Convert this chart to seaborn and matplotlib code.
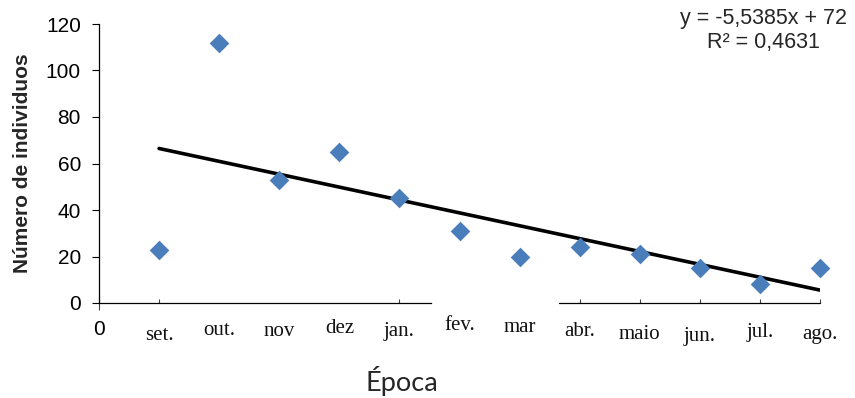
import matplotlib
matplotlib.use("Agg")
import matplotlib.pyplot as plt
import matplotlib.transforms as mtransforms
import seaborn as sns
import pandas as pd

# ---- data ----
months = ['set.', 'out.', 'nov', 'dez', 'jan.', 'fev.', 'mar', 'abr.', 'maio', 'jun.', 'jul.', 'ago.']
month_index = [1, 2, 3, 4, 5, 6, 7, 8, 9, 10, 11, 12]
individuos = [23, 112, 53, 65, 45, 31, 20, 24, 21, 15, 8, 15]
y_ticks = [0, 20, 40, 60, 80, 100, 120]
equation_text = "y = -5,5385x + 72\nR² = 0,4631"
x_label = "Época"
y_label = "Número de individuos"

df = pd.DataFrame({"mes": month_index, "n": individuos})

sns.set_style("ticks")
plt.rcParams['font.family'] = ['Liberation Sans', 'DejaVu Sans']

fig = plt.figure(figsize=(8.55, 3.98), dpi=100)
ax = fig.add_axes([99 / 855, 1 - 303 / 398, (820 - 99) / 855, (303 - 24) / 398])

sns.scatterplot(data=df, x="mes", y="n", marker="D", s=100, color="#4a7ebb",
                edgecolor="#4a7ebb", linewidth=0, ax=ax, zorder=3, clip_on=False)
sns.regplot(data=df, x="mes", y="n", scatter=False, ci=None, truncate=True,
            line_kws=dict(color="black", lw=2.6), ax=ax)

ax.set_xlim(0, 12)
ax.set_ylim(0, 120)
ax.set_yticks(y_ticks)
ax.tick_params(axis='y', direction='out', length=5, width=0.8, colors='black',
               labelsize=15, pad=8)
ax.set_xticks([0] + month_index)
ax.set_xticklabels(['0'] + months)
ax.tick_params(axis='x', direction='in', length=3, width=0.8, colors='#444444',
               labelcolor='black', pad=14)

for sp in ['top', 'right']:
    ax.spines[sp].set_visible(False)
for sp in ['left', 'bottom']:
    ax.spines[sp].set_color('black')
    ax.spines[sp].set_linewidth(0.9)
ax.spines['bottom'].set_bounds(0, 5.52)
ax.axhline(0, xmin=7.65 / 12, xmax=1, color='black', lw=0.9, clip_on=False)

xt = ax.xaxis.get_major_ticks()
labels = ax.get_xticklabels()
labels[0].set_fontsize(15)
labels[0].set_family(['Liberation Sans'])
offsets = [2, -4, 1, 0, 3, 0, 6, 4, 0, -3, -5, -1, -3]
for i, lab in enumerate(labels):
    if i > 0:
        lab.set_family(['Liberation Serif'])
        lab.set_fontsize(15)
        lab.set_color('#111111')
    lab.set_transform(lab.get_transform() +
                      mtransforms.ScaledTranslation(0, offsets[i] / 100, fig.dpi_scale_trans))
for i in [2, 3, 4, 6, 7]:
    xt[i].tick1line.set_visible(False)
xt[0].tick1line.set_marker('|')
xt[0].tick1line.set_markersize(10)

ax.set_xlabel(x_label, fontsize=19.5, family=['Lato', 'DejaVu Sans'], va='center')
ax.xaxis.set_label_coords(303 / 721, -(381 - 303) / 279)
ax.set_ylabel(y_label, fontsize=15, fontweight='bold', labelpad=10)

fig.text(763 / 855, 1 - 8 / 398, equation_text, ha='center', va='top',
         fontsize=15.5, linespacing=1.2)

fig.savefig("out.png", dpi=100)
